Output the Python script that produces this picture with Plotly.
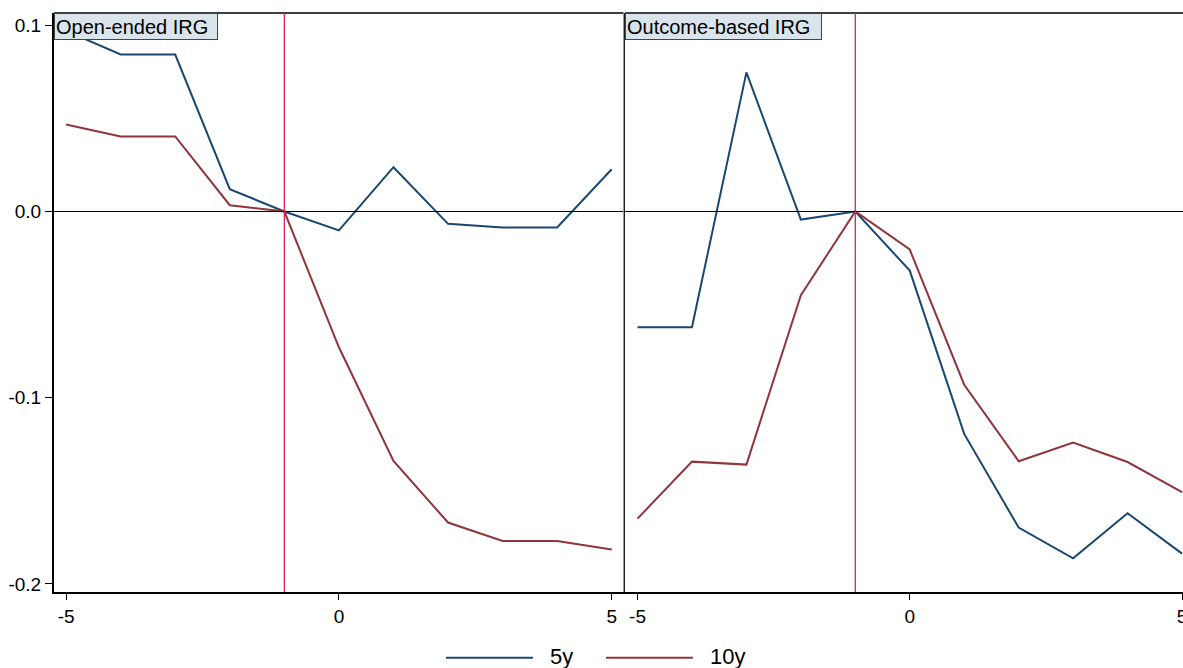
import plotly.graph_objects as go

# Event time (years relative to reform)
event_time = [-5, -4, -3, -2, -1, 0, 1, 2, 3, 4, 5]

# Open-ended IRG coefficients
open_5y = [0.097, 0.0843, 0.0843, 0.0120, 0.0, -0.0101, 0.0238, -0.0066, -0.0086, -0.0086, 0.0227]
open_10y = [0.0467, 0.0403, 0.0403, 0.0034, 0.0, -0.0729, -0.1339, -0.1670, -0.1769, -0.1769, -0.1815]

# Outcome-based IRG coefficients
outcome_5y = [-0.0621, -0.0621, 0.0747, -0.0043, 0.0, -0.0317, -0.1194, -0.1697, -0.1862, -0.1620, -0.1837]
outcome_10y = [-0.1649, -0.1343, -0.1359, -0.0449, 0.0, -0.0204, -0.0930, -0.1341, -0.1241, -0.1345, -0.1507]

panel_titles = ["Open-ended IRG", "Outcome-based IRG"]
series_names = ["5y", "10y"]
y_ticks = [0.1, 0.0, -0.1, -0.2]
y_tick_text = ["0.1", "0.0", "-0.1", "-0.2"]
x_ticks = [-5, 0, 5]
x_tick_text = ["-5", "0", "5"]
reform_time = -1

NAVY = "#1a476f"
MAROON = "#90353b"
XLINE = "#dc2352"
STRIP_FILL = "#d9e5eb"
FONT = "Liberation Sans, Arial, sans-serif"

W, H = 1183, 668
ML, MR, MT, MB = 54, 0, 13, 76
plot_w = W - ML - MR
left_dom = [0, 569.6 / plot_w]
right_dom = [571.2 / plot_w, 1]

fig = go.Figure()

panels = [
    ("x", "y", open_5y, open_10y),
    ("x2", "y2", outcome_5y, outcome_10y),
]
for xa, ya, s5, s10 in panels:
    fig.add_trace(go.Scatter(x=event_time, y=s5, mode="lines", xaxis=xa, yaxis=ya,
                             line=dict(color=NAVY, width=2), name=series_names[0],
                             showlegend=False))
    fig.add_trace(go.Scatter(x=event_time, y=s10, mode="lines", xaxis=xa, yaxis=ya,
                             line=dict(color=MAROON, width=2), name=series_names[1],
                             showlegend=False))

y_range = [-0.2043, 0.1066]
tick_font = dict(family=FONT, size=19, color="black")

fig.update_layout(
    width=W, height=H,
    margin=dict(l=ML, r=MR, t=MT, b=MB, autoexpand=False),
    paper_bgcolor="white", plot_bgcolor="white",
    showlegend=False,
    xaxis=dict(domain=left_dom, range=[-5.222, 5.218], tickvals=x_ticks, ticktext=x_tick_text,
               ticks="outside", ticklen=6, tickwidth=1, tickcolor="black",
               showline=True, linecolor="black", linewidth=2, mirror=False, automargin=False,
               showgrid=False, zeroline=False, tickfont=tick_font, anchor="y"),
    yaxis=dict(domain=[0, 1], range=y_range, tickvals=y_ticks, ticktext=y_tick_text,
               ticks="outside", ticklen=7, tickwidth=1, tickcolor="black", automargin=False,
               showline=True, linecolor="black", linewidth=2,
               showgrid=False, zeroline=False, tickfont=tick_font, anchor="x"),
    xaxis2=dict(domain=right_dom, range=[-5.226, 5.018], tickvals=x_ticks, ticktext=x_tick_text,
                ticks="outside", ticklen=6, tickwidth=1, tickcolor="black", automargin=False,
                showline=True, linecolor="black", linewidth=2, ticklabeloverflow="allow",
                showgrid=False, zeroline=False, tickfont=tick_font, anchor="y2"),
    yaxis2=dict(domain=[0, 1], range=y_range, showticklabels=False, ticks="", automargin=False,
                showline=True, linecolor="black", linewidth=1.5,
                showgrid=False, zeroline=False, anchor="x2"),
)

shapes = []
for xa, ya in [("x", "y"), ("x2", "y2")]:
    # top border
    shapes.append(dict(type="line", xref=f"{xa} domain", yref=f"{ya} domain",
                       x0=0, x1=1, y0=1, y1=1, line=dict(color="black", width=1.5)))
    # zero reference line
    shapes.append(dict(type="line", xref=f"{xa} domain", yref=ya,
                       x0=0, x1=1, y0=0, y1=0, line=dict(color="black", width=1.2)))
    # reform year marker
    shapes.append(dict(type="line", xref=xa, yref=f"{ya} domain",
                       x0=reform_time, x1=reform_time, y0=0, y1=1,
                       line=dict(color=XLINE, width=1.3)))
# right edge of the first panel
shapes.append(dict(type="line", xref="x domain", yref="y domain",
                   x0=1, x1=1, y0=0, y1=1, line=dict(color="#9a9a9a", width=1.2)))

# legend keys drawn below the panels
legend_y = -(656.5 - (H - MB)) / (H - MT - MB)
legend_items = [(series_names[0], NAVY, 446, 533, 548), (series_names[1], MAROON, 606, 693, 708)]
annotations = []
for name, color, x0, x1, xt in legend_items:
    shapes.append(dict(type="line", xref="paper", yref="paper",
                       x0=(x0 - ML) / plot_w, x1=(x1 - ML) / plot_w,
                       y0=legend_y - 1.2 / (H - MT - MB), y1=legend_y - 1.2 / (H - MT - MB),
                       line=dict(color=color, width=2)))
    annotations.append(dict(text=name, xref="paper", yref="paper",
                            x=(xt - ML) / plot_w, y=legend_y, xanchor="left", yanchor="middle",
                            showarrow=False, font=dict(family=FONT, size=22, color="black")))

# panel titles in strip boxes
for (xa, ya), title, box_w in zip([("x", "y"), ("x2", "y2")], panel_titles, [160, 193]):
    annotations.append(dict(text=title, xref=f"{xa} domain", yref=f"{ya} domain",
                            x=0, y=1, xanchor="left", yanchor="top", showarrow=False,
                            align="left", width=box_w, height=23, borderpad=1,
                            bgcolor=STRIP_FILL, bordercolor="#444444", borderwidth=1,
                            font=dict(family=FONT, size=20, color="black")))

fig.update_layout(shapes=shapes, annotations=annotations)

fig.write_html("out.html")
